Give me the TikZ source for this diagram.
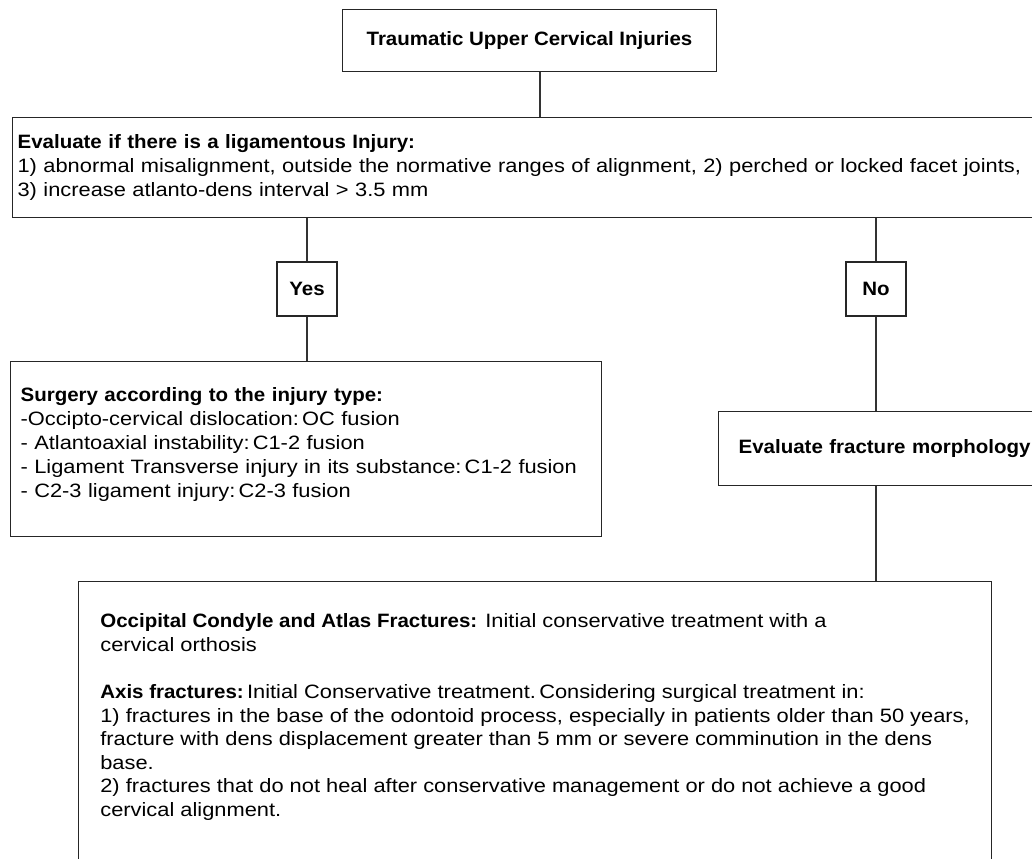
\documentclass[tikz,border=0pt]{standalone}
\usepackage{fontspec}
\setmainfont{Liberation Sans}[FakeStretch=1.13, BoldFeatures={FakeStretch=1.06}]
\begin{document}
\begin{tikzpicture}[x=0.75pt,y=-0.75pt,
  font=\fontsize{14.5}{18}\selectfont,
  box/.style={draw=black!85, line width=0.9pt, inner sep=0pt},
  conn/.style={draw=black!80, line width=0.9pt},
  head/.style={font=\fontsize{14.5}{18}\selectfont\bfseries}]
\clip (0,0) rectangle (1032,858);
\node[box, head, minimum width=374*0.75pt, minimum height=62*0.75pt] (top) at (529.5,40.5) {Traumatic Upper Cervical Injuries};
\node[box, anchor=north west, minimum width=1040*0.75pt, minimum height=100*0.75pt, text width=1030*0.75pt, align=left, inner xsep=4*0.75pt, yshift=0pt] (eval) at (12,117) {\textbf{Evaluate if there is a ligamentous Injury:}\\
1) abnormal misalignment, outside the normative ranges of alignment, 2) perched or locked facet joints,\\
3) increase atlanto-dens interval > 3.5 mm};
\node[box, head, minimum width=60*0.75pt, minimum height=54*0.75pt] (yes) at (307,289) {Yes};
\node[box, head, minimum width=60*0.75pt, minimum height=54*0.75pt] (no) at (876,289) {No};
\node[box, anchor=north west, minimum width=591*0.75pt, text width=571*0.75pt, align=left, inner xsep=10*0.75pt, inner ysep=26*0.75pt, text depth=109*0.75pt] (surg) at (10,361) {\textbf{Surgery according to the injury type:}\\
-Occipto-cervical dislocation:\,OC fusion\\
- Atlantoaxial instability:\,C1-2 fusion\\
- Ligament Transverse injury in its substance:\,C1-2 fusion\\
- C2-3 ligament injury:\,C2-3 fusion};
\node[box, head, anchor=north west, minimum width=340*0.75pt, minimum height=74*0.75pt, text width=300*0.75pt, align=left, inner xsep=19*0.75pt] (frac) at (718,411) {Evaluate fracture morphology};
\node[box, anchor=north west, minimum width=913*0.75pt, align=left, inner xsep=10*0.75pt, inner ysep=32*0.75pt, text depth=260*0.75pt, font=\fontsize{14.5}{17.7}\selectfont] (bot) at (78,581) {\textbf{Occipital Condyle and Atlas Fractures:} Initial conservative treatment with a\\
cervical orthosis\\[17.7pt]
\textbf{Axis fractures:}\,Initial Conservative treatment.\,Considering surgical treatment in:\\
1) fractures in the base of the odontoid process, especially in patients older than 50 years,\\
fracture with dens displacement greater than 5 mm or severe comminution in the dens\\
base.\\
2) fractures that do not heal after conservative management or do not achieve a good\\
cervical alignment.};
\coordinate (c1) at (540,0);
\draw[conn] (top.south -| c1) -- (eval.north -| c1);
\draw[conn] (eval.south -| yes) -- (yes.north);
\draw[conn] (yes.south) -- (surg.north -| yes);
\draw[conn] (eval.south -| no) -- (no.north);
\draw[conn] (no.south) -- (frac.north -| no);
\draw[conn] (frac.south -| no) -- (bot.north -| no);
\end{tikzpicture}
\end{document}
